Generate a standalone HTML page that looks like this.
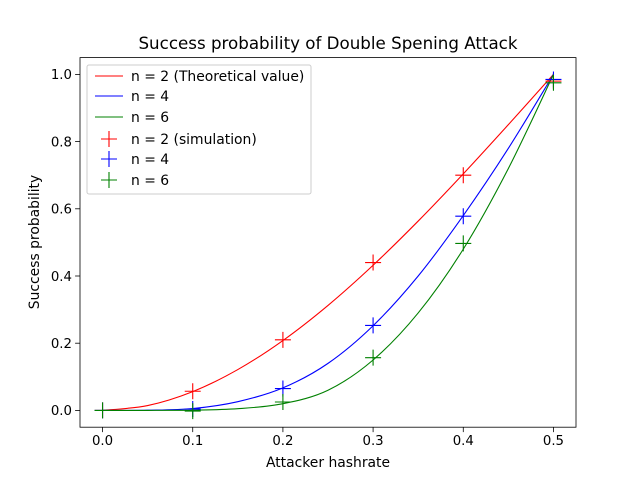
<!DOCTYPE html>
<html><head><meta charset="utf-8"><style>
body{margin:0;background:#fff;}
svg text{font-family:"DejaVu Sans","Liberation Sans",sans-serif;}
</style></head><body>
<svg width="640" height="480" viewBox="0 0 640 480" xmlns="http://www.w3.org/2000/svg">
<rect width="640" height="480" fill="#fff"/>
<g id="plot"></g>
</svg>
<script>
const xTicks=[0,0.1,0.2,0.3,0.4,0.5];
const xTickLabels=["0.0","0.1","0.2","0.3","0.4","0.5"];
const yTicks=[0,0.2,0.4,0.6,0.8,1.0];
const yTickLabels=["0.0","0.2","0.4","0.6","0.8","1.0"];
const lineX=[0,0.05,0.1,0.15,0.2,0.25,0.3,0.35,0.4,0.45,0.5];
const theory2=[0,0.0145,0.056,0.1215,0.208,0.3125,0.432,0.5635,0.704,0.8505,1];
const theory4=[0,0.0005,0.0056,0.026,0.067,0.14,0.252,0.40,0.58,0.78,1];
const theory6=[0,0.00003,0.0006,0.005,0.02,0.06,0.15,0.29,0.48,0.72,1];
const simX=[0,0.1,0.2,0.3,0.4,0.5];
const sim2=[0,0.057,0.21,0.44,0.70,0.98];
const sim4=[0,0.004,0.065,0.253,0.578,0.985];
const sim6=[0,-0.002,0.025,0.157,0.497,0.975];
const L=80,R=576,T=57.6,B=427.2;
const X=v=>L+(v+0.025)/0.55*(R-L);
const Y=v=>B-(v+0.05)/1.1*(B-T);
const NS="http://www.w3.org/2000/svg";
const g=document.getElementById('plot');
function mk(tag,at,p){const e=document.createElementNS(NS,tag);for(const k in at)e.setAttribute(k,at[k]);(p||g).appendChild(e);return e;}
function txt(s,at){const e=mk('text',at);e.textContent=s;return e;}
function smooth(pts){
 let d=`M${pts[0][0]},${pts[0][1]}`;
 for(let i=0;i<pts.length-1;i++){
  const p0=pts[Math.max(i-1,0)],p1=pts[i],p2=pts[i+1],p3=pts[Math.min(i+2,pts.length-1)];
  const c1=[p1[0]+(p2[0]-p0[0])/6,p1[1]+(p2[1]-p0[1])/6];
  const c2=[p2[0]-(p3[0]-p1[0])/6,p2[1]-(p3[1]-p1[1])/6];
  d+=`C${c1[0]},${c1[1]} ${c2[0]},${c2[1]} ${p2[0]},${p2[1]}`;
 }
 return d;
}
const fr=mk('rect',{x:L,y:T,width:R-L,height:B-T,fill:'none',stroke:'#000','stroke-width':0.8});


xTicks.forEach((v,i)=>{
 const t=mk('line',{x1:X(v),x2:X(v),y1:B,y2:B+4.9,stroke:'#000','stroke-width':0.8});
 
 
 const l=txt(xTickLabels[i],{x:X(v),y:B+18,'font-size':13.3,'text-anchor':'middle'});
 
 
});
yTicks.forEach((v,i)=>{
 const t=mk('line',{x1:L-4.9,x2:L,y1:Y(v),y2:Y(v),stroke:'#000','stroke-width':0.8});
 
 
 const l=txt(yTickLabels[i],{x:L-8,y:Y(v)+4.8,'font-size':13.3,'text-anchor':'end'});
 
 
});
const series=[[theory2,sim2,'#ff0000','n2'],[theory4,sim4,'#0000ff','n4'],[theory6,sim6,'#008000','n6']];
series.forEach(s=>{
 const p=mk('path',{d:smooth(lineX.map((x,i)=>[X(x),Y(s[0][i])])),fill:'none',stroke:s[2],'stroke-width':1.1});
 
 
});
series.forEach(s=>{
 simX.forEach((x,i)=>{
  const cx=X(x),cy=Y(s[1][i]);
  const m=mk('path',{d:`M${cx-8},${cy}H${cx+8}M${cx},${cy-8}V${cy+8}`,stroke:s[2],'stroke-width':1.1,fill:'none'});
  
  
 });
});
const lg=mk('rect',{x:87,y:65,width:224,height:129,rx:2,fill:'#fff','fill-opacity':0.8,stroke:'#ccc','stroke-width':1});


const entries=[['n = 2 (Theoretical value)','#ff0000',0],['n = 4','#0000ff',0],['n = 6','#008000',0],['n = 2 (simulation)','#ff0000',1],['n = 4','#0000ff',1],['n = 6','#008000',1]];
const ey=[76,96,117,139,159,180];
entries.forEach((e,i)=>{
 const y=ey[i];
 let s;
 if(!e[2]) s=mk('line',{x1:95,x2:123,y1:y,y2:y,stroke:e[1],'stroke-width':1.1});
 else s=mk('path',{d:`M101,${y}H117M109,${y-8}V${y+8}`,stroke:e[1],'stroke-width':1.1});
 
 
 const t=txt(e[0],{x:131,y:y+4.8,'font-size':13.9});
 
 
});
const ti=txt('Success probability of Double Spening Attack',{x:328,y:49,'font-size':16.7,'text-anchor':'middle'});


const xl=txt('Attacker hashrate',{x:328,y:467,'font-size':13.9,'text-anchor':'middle'});


const yl=txt('Success probability',{x:0,y:0,'font-size':13.9,'text-anchor':'middle',transform:'translate(39,242) rotate(-90)'});


</script>
</body></html>
